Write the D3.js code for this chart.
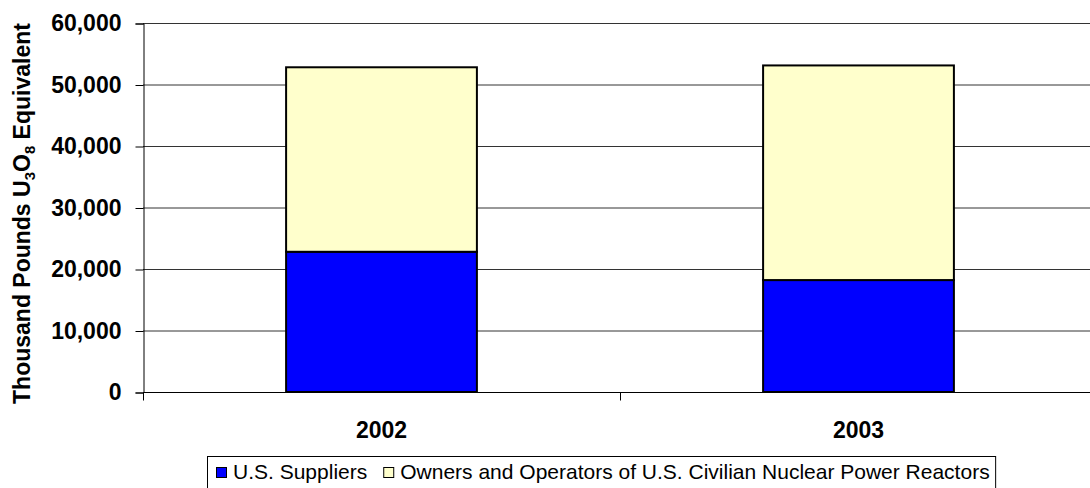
<!DOCTYPE html>
<html>
<head>
<meta charset="utf-8">
<script src="https://cdn.jsdelivr.net/npm/d3@7"></script>
<style>
  body { margin: 0; background: #fff; }
  text { font-family: "Liberation Sans", Arial, sans-serif; }
</style>
</head>
<body>
<div id="container"></div>
<script>
/* DATA */
const years = ["2002", "2003"];
const suppliers = [22800, 18200];
const owners = [30000, 34900];
const seriesNames = ["U.S. Suppliers", "Owners and Operators of U.S. Civilian Nuclear Power Reactors"];
const yTicks = [0, 10000, 20000, 30000, 40000, 50000, 60000];

/* CONSTANTS */
const width = 1090;
const height = 488;
const plot = { left: 143, right: 1097, top: 23, bottom: 392 };
const colors = ["#0000ff", "#ffffcc"];
const axisFont = 23;
const legendFont = 21;

const rows = years.map((y, i) => ({ year: y, s0: suppliers[i], s1: owners[i] }));
const stack = d3.stack().keys(["s0", "s1"])(rows);

/* SCALES */
const xScale = d3.scaleBand()
  .domain(years)
  .range([plot.left, plot.right]);

const yScale = d3.scaleLinear()
  .domain([0, 60000])
  .range([plot.bottom, plot.top]);

const svg = d3.select("#container")
  .append("svg")
  .attr("width", width)
  .attr("height", height);

// gridlines
svg.append("g")
  .selectAll("line")
  .data(yTicks)
  .join("line")
  .attr("x1", plot.left)
  .attr("x2", plot.right)
  .attr("y1", d => yScale(d) + 0.5)
  .attr("y2", d => yScale(d) + 0.5)
  .attr("stroke", "#333")
  .attr("stroke-width", 1);

// y axis
const yAxis = d3.axisLeft(yScale)
  .tickValues(yTicks)
  .tickFormat(d3.format(","))
  .tickSize(8)
  .tickPadding(14);
const yg = svg.append("g")
  .attr("transform", `translate(${plot.left + 0.5},0.5)`)
  .call(yAxis);
yg.select(".domain").attr("stroke", "#000");
yg.selectAll(".tick line").attr("stroke", "#000");
yg.selectAll("text")
  .attr("font-size", axisFont)
  .attr("font-weight", "bold")
  .attr("fill", "#000")
  .attr("font-family", "'Liberation Sans', Arial, sans-serif");

// x axis
const xAxis = d3.axisBottom(xScale).tickSize(0).tickPadding(29);
const xg = svg.append("g")
  .attr("transform", `translate(0,${plot.bottom + 0.5})`)
  .call(xAxis);
xg.select(".domain").remove();
xg.append("line")
  .attr("x1", plot.left).attr("x2", plot.right)
  .attr("stroke", "#000");
xg.selectAll(".sep")
  .data(years.concat(["end"]))
  .join("line")
  .attr("class", "sep")
  .attr("x1", (d, i) => plot.left + i * xScale.bandwidth() + 0.5)
  .attr("x2", (d, i) => plot.left + i * xScale.bandwidth() + 0.5)
  .attr("y1", 0).attr("y2", 8)
  .attr("stroke", "#000");
xg.selectAll(".tick text")
  .attr("font-size", axisFont)
  .attr("font-weight", "bold")
  .attr("fill", "#000")
  .attr("font-family", "'Liberation Sans', Arial, sans-serif");

// bars
const barW = xScale.bandwidth() * 0.4;
svg.append("g")
  .selectAll("g")
  .data(stack)
  .join("g")
  .attr("fill", (d, i) => colors[i])
  .selectAll("rect")
  .data(d => d)
  .join("rect")
  .attr("x", d => xScale(d.data.year) + (xScale.bandwidth() - barW) / 2)
  .attr("y", d => yScale(d[1]))
  .attr("width", barW)
  .attr("height", d => yScale(d[0]) - yScale(d[1]))
  .attr("stroke", "#000")
  .attr("stroke-width", 2);

// y axis title
const title = svg.append("text")
  .attr("transform", `translate(30,${(plot.top + plot.bottom) / 2 + 6}) rotate(-90)`)
  .attr("text-anchor", "middle")
  .attr("font-size", axisFont)
  .attr("font-weight", "bold")
  .attr("fill", "#000");
title.append("tspan").text("Thousand Pounds U");
title.append("tspan").text("3").attr("font-size", 15).attr("dy", 5);
title.append("tspan").text("O").attr("dy", -5);
title.append("tspan").text("8").attr("font-size", 15).attr("dy", 5);
title.append("tspan").text(" Equivalent").attr("dy", -5);

// legend
const legend = svg.append("g");
const box = legend.append("rect")
  .attr("x", 207.5).attr("y", 456.5)
  .attr("height", 32)
  .attr("fill", "#fff")
  .attr("stroke", "#000");
let cx = 216;
seriesNames.forEach((name, i) => {
  legend.append("rect")
    .attr("x", cx + 0.5).attr("y", 467.5)
    .attr("width", 10).attr("height", 10)
    .attr("fill", colors[i])
    .attr("stroke", "#000");
  const t = legend.append("text")
    .attr("x", cx + 17)
    .attr("y", 479)
    .attr("font-size", legendFont)
    .attr("fill", "#000")
    .text(name);
  cx += 17 + t.node().getComputedTextLength() + 16;
});
box.attr("width", cx - 16 + 6 - 207.5);
</script>
</body>
</html>
